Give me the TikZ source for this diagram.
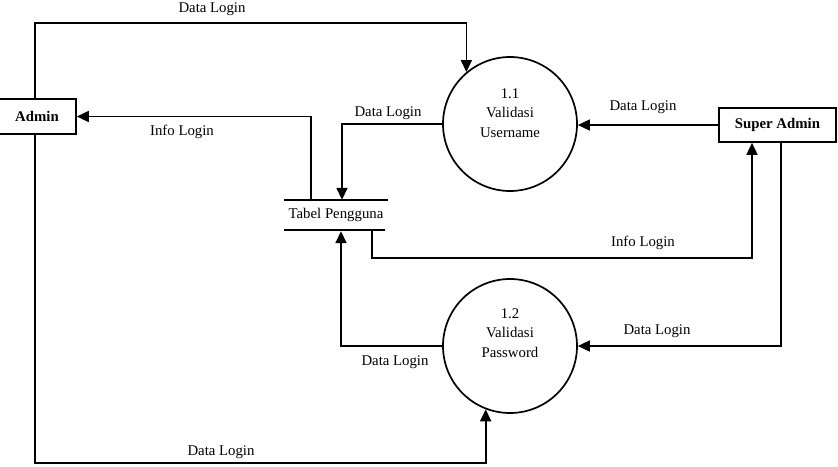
\documentclass[tikz,border=0pt]{standalone}
\usepackage{fontspec}
\setmainfont{Liberation Serif}
\usetikzlibrary{arrows.meta}
\begin{document}
\begin{tikzpicture}[x=1pt,y=-1pt,
  every node/.style={font=\fontsize{14.8}{19.5}\selectfont},
  line/.style={line width=1.7pt},
  flow/.style={line width=1.7pt,-{Triangle[length=12pt,width=11pt]}},
  entity/.style={draw,line width=1.7pt,rectangle,inner sep=0pt,font=\fontsize{14.8}{19.5}\selectfont\bfseries},
  proc/.style={draw,line width=1.7pt,circle,minimum size=134pt,inner sep=0pt},
  lbl/.style={inner sep=0pt}]
\useasboundingbox (0,0) rectangle (838,466);
% entities
\node[entity,minimum width=78pt,minimum height=35pt] (admin) at (37,116.5) {Admin};
\node[entity,minimum width=117pt,minimum height=34pt] (super) at (777.5,125) {Super Admin};
% processes
\node[proc] (p11) at (510,124) {};
\node[lbl,align=center] (p11t) at (510,113) {1.1\\Validasi\\Username};
\node[proc] (p12) at (510,346) {};
\node[lbl,align=center] (p12t) at (510,333) {1.2\\Validasi\\Password};
% data store
\node[minimum width=104pt,minimum height=30pt,inner sep=0pt] (store) at (336,215) {Tabel Pengguna};
\draw[line] (store.north west) -- (store.north east);
\draw[line] (store.south west) -- ([xshift=-3pt]store.south east);
% coordinates
\coordinate (c1) at (35,23);
\coordinate (c3) at (752,258);
\coordinate (c4) at (35,463);
% flows
\draw[flow] (admin.north -| c1) |- (p11.130 |- c1) -- (p11.130);
\draw[flow] (store.north -| 311,0) |- (admin.east);
\draw[flow] (p11.west) -| (store.north -| 342,0);
\draw[flow] (super.west) -- (super.west -| p11.east);
\draw[flow] (store.south -| 372,0) |- (c3) -- (super.south -| c3);
\draw[flow] (super.south -| 781,0) |- (p12.east);
\draw[flow] (p12.west) -| ([yshift=-1pt]store.south -| 341,0);
\draw[flow] (admin.south -| c4) |- (p12.249 |- c4) -- (p12.249);
% labels
\node[lbl] (l1) at (212,9) {Data Login};
\node[lbl] (l2) at (182,132) {Info Login};
\node[lbl] (l3) at (388,113) {Data Login};
\node[lbl] (l4) at (643,107) {Data Login};
\node[lbl] (l5) at (643,243) {Info Login};
\node[lbl] (l6) at (657,331) {Data Login};
\node[lbl] (l7) at (395,362) {Data Login};
\node[lbl] (l8) at (221,452) {Data Login};
\end{tikzpicture}
\end{document}
